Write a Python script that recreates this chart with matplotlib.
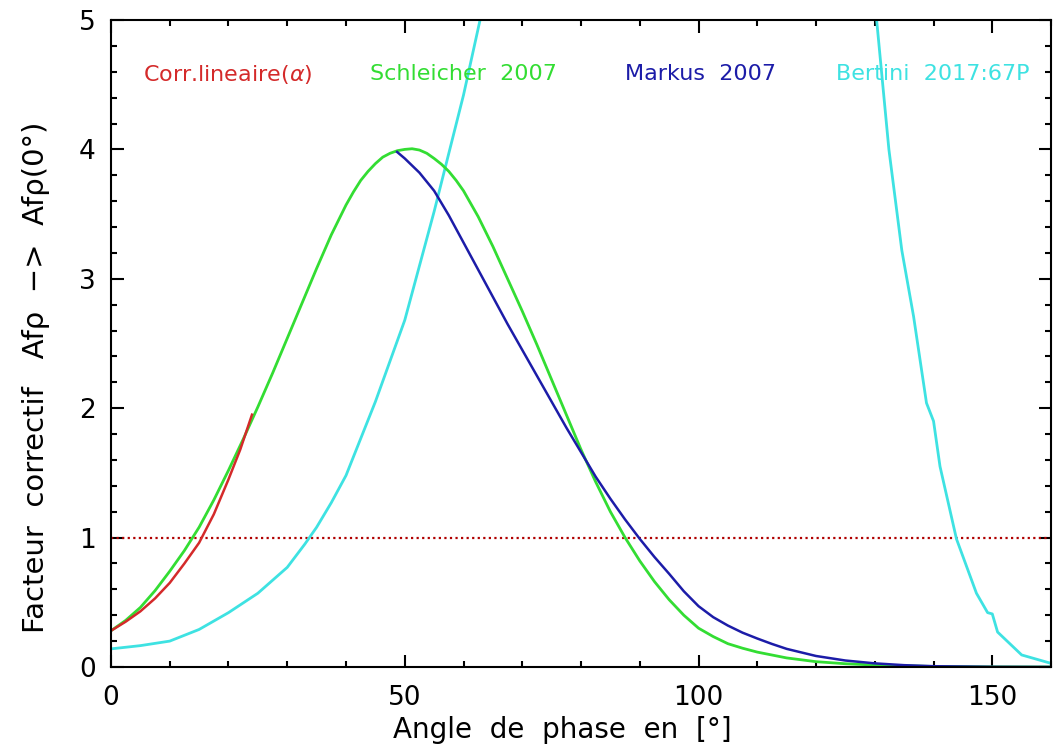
import numpy as np
import matplotlib
matplotlib.use("Agg")
import matplotlib.pyplot as plt
from matplotlib.ticker import MultipleLocator

# Correction lineaire en fonction de l'angle de phase
angle_lin = [0, 2.5, 5, 7.5, 10, 12.5, 15, 17.5, 20, 22, 24]
corr_lin = [0.28, 0.35, 0.43, 0.53, 0.65, 0.80, 0.96, 1.18, 1.45, 1.68, 1.95]

# Schleicher 2007
angle_sch = [0, 2.5, 5, 7.5, 10, 12.5, 15, 17.5, 20, 22.5, 25, 27.5, 30, 32.5,
             35, 37.5, 40, 41.25, 42.5, 43.75, 45, 46.25, 47.5, 48.75, 50,
             51.25, 52.5, 53.75, 55, 56.25, 57.5, 58.75, 60, 62.5, 65,
             67.5, 70, 72.5, 75, 77.5, 80, 82.5, 85, 87.5, 90, 92.5, 95, 97.5,
             100, 102.5, 105, 107.5, 110, 115, 120, 125, 130, 140, 150, 160]
corr_sch = [0.28, 0.36, 0.46, 0.59, 0.74, 0.90, 1.08, 1.29, 1.52, 1.76, 2.01,
            2.27, 2.54, 2.81, 3.08, 3.34, 3.57, 3.67, 3.76, 3.83, 3.89, 3.94,
            3.97, 3.99, 4.00, 4.005, 3.995, 3.97, 3.93, 3.885, 3.83, 3.76,
            3.68, 3.48, 3.25, 3.00, 2.75, 2.49, 2.22, 1.95, 1.68,
            1.43, 1.20, 1.00, 0.82, 0.66, 0.52, 0.40, 0.30, 0.235, 0.18, 0.145,
            0.115, 0.07, 0.041, 0.025, 0.015, 0.004, 0.001, 0.0]

# Markus 2007
angle_mar = [48.7, 50, 52.5, 55, 57.5, 60, 62.5, 65, 67.5, 70, 72.5, 75, 77.5,
             80, 82.5, 85, 87.5, 90, 92.5, 95, 97.5, 100, 102.5, 105, 107.5,
             110, 112.5, 115, 120, 125, 130, 135, 140, 150, 160]
corr_mar = [3.98, 3.93, 3.82, 3.68, 3.49, 3.28, 3.07, 2.86, 2.65, 2.45, 2.25,
            2.05, 1.85, 1.66, 1.47, 1.30, 1.14, 0.99, 0.85, 0.72, 0.585, 0.47,
            0.385, 0.32, 0.265, 0.22, 0.178, 0.14, 0.085, 0.05, 0.028, 0.014,
            0.006, 0.001, 0.0]

# Bertini 2017 : 67P
angle_ber = [0, 5, 10, 15, 20, 25, 30, 33, 35, 37.5, 40, 45, 50, 55, 60, 65,
             128, 130, 132.4, 134.6, 136.6, 138.8, 140, 141.1, 143.9, 147.3,
             149.2, 150, 150.9, 155, 160]
corr_ber = [0.14, 0.165, 0.20, 0.29, 0.42, 0.57, 0.77, 0.95, 1.08, 1.27, 1.48,
            2.05, 2.68, 3.52, 4.42, 5.45, 6.2, 5.15, 4.00, 3.22, 2.71, 2.04,
            1.90, 1.55, 0.99, 0.57, 0.42, 0.41, 0.27, 0.093, 0.028]

c_red = "#d42a2a"
c_green = "#33dd33"
c_blue = "#1c1ca8"
c_cyan = "#3ee2e2"

fig = plt.figure(figsize=(10.54, 7.49), dpi=100)
ax = fig.add_axes([0.1053, 0.1095, 0.8919, 0.8638])

ax.axhline(1, color="#b00000", linestyle=(0, (1, 1.5)), linewidth=1.6)
ax.plot(angle_ber, corr_ber, color=c_cyan, linewidth=2)
ax.plot(angle_sch, corr_sch, color=c_green, linewidth=2)
ax.plot(angle_mar, corr_mar, color=c_blue, linewidth=1.8)
ax.plot(angle_lin, corr_lin, color=c_red, linewidth=1.8)

ax.set_xlim(0, 160)
ax.set_ylim(0, 5)

ax.xaxis.set_major_locator(MultipleLocator(50))
ax.xaxis.set_minor_locator(MultipleLocator(10))
ax.yaxis.set_major_locator(MultipleLocator(1))
ax.yaxis.set_minor_locator(MultipleLocator(0.2))
ax.tick_params(which="both", direction="in", top=True, right=True, width=1.5)
ax.tick_params(which="major", length=9, labelsize=19)
ax.tick_params(axis="x", which="major", pad=13)
ax.tick_params(axis="y", which="major", pad=11)
ax.tick_params(which="minor", length=4.5)
for sp in ax.spines.values():
    sp.set_linewidth(1.5)

# Etiquettes des courbes
ty = 4.58
ax.text(5.4, ty, r"Corr.lineaire($\alpha$)", color=c_red, fontsize=16, va="center")
ax.text(44.1, ty, "Schleicher  2007", color=c_green, fontsize=16, va="center")
ax.text(87.5, ty, "Markus  2007", color=c_blue, fontsize=16, va="center")
ax.text(123.4, ty, "Bertini  2017:67P", color=c_cyan, fontsize=16, va="center")

ax.set_xlabel("Angle  de  phase  en  [°]", fontsize=20)
ax.set_ylabel("Facteur  correctif   Afρ  −>  Afρ(0°)", fontsize=21)
ax.xaxis.set_label_coords(0.48, -0.075)
ax.yaxis.set_label_coords(-0.065, 0.447)

fig.savefig("out.png", dpi=100)
